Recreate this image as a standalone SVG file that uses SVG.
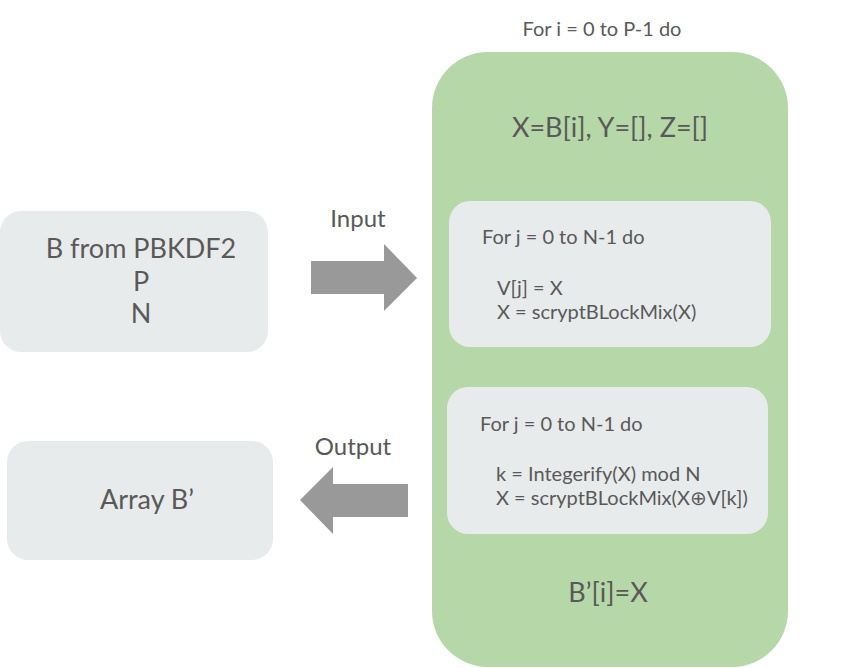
<svg xmlns="http://www.w3.org/2000/svg" width="842" height="668" viewBox="0 0 842 668">
<style>
text{font-family:Lato,"Open Sans","Liberation Sans",sans-serif;fill:#595959}
.gray{fill:#e8ebec}
.arrow{fill:#999999}
.s18{font-size:20px}
.s20{font-size:24px}
.s24{font-size:27px}
</style>
<rect width="842" height="668" fill="#ffffff"/>
<text class="s18" x="602" y="36" text-anchor="middle">For i = 0 to P-1 do</text>
<g id="loop-outer">
<rect x="432" y="52" width="356" height="615" rx="56" ry="56" fill="#b6d7a8"/>
<text class="s24" x="610" y="137" text-anchor="middle">X=B[i], Y=[], Z=[]</text>
<text class="s24" x="608" y="602" text-anchor="middle">B’[i]=X</text>
</g>
<g id="loop-inner-1">
<rect class="gray" x="449" y="201" width="322" height="146" rx="21" ry="21"/>
<text class="s18" x="482" y="244">For j = 0 to N-1 do</text>
<text class="s18" x="497" y="295">V[j] = X</text>
<text class="s18" x="497" y="319">X = scryptBLockMix(X)</text>
</g>
<g id="loop-inner-2">
<rect class="gray" x="447" y="387" width="321" height="147" rx="21" ry="21"/>
<text class="s18" x="480" y="431">For j = 0 to N-1 do</text>
<text class="s18" x="496" y="481">k = Integerify(X) mod N</text>
<text class="s18" x="496" y="505">X = scryptBLockMix(X⊕V[k])</text>
</g>
<g id="input-box">
<rect class="gray" x="0" y="211" width="268" height="141" rx="21" ry="21"/>
<text class="s24" x="141" y="258" text-anchor="middle">B from PBKDF2</text>
<text class="s24" x="141" y="291" text-anchor="middle">P</text>
<text class="s24" x="141" y="323" text-anchor="middle">N</text>
</g>
<g id="output-box">
<rect class="gray" x="7" y="441" width="266" height="119" rx="21" ry="21"/>
<text class="s24" x="147" y="509" text-anchor="middle">Array B’</text>
</g>
<g id="connectors">
<polygon class="arrow" points="311,261 384,261 384,244 417,278 384,311 384,294 311,294"/>
<text class="s20" x="358" y="227" text-anchor="middle">Input</text>
<polygon class="arrow" points="408,484 333,484 333,467 300,500 333,534 333,517 408,517"/>
<text class="s20" x="353" y="455" text-anchor="middle">Output</text>
</g>
</svg>
